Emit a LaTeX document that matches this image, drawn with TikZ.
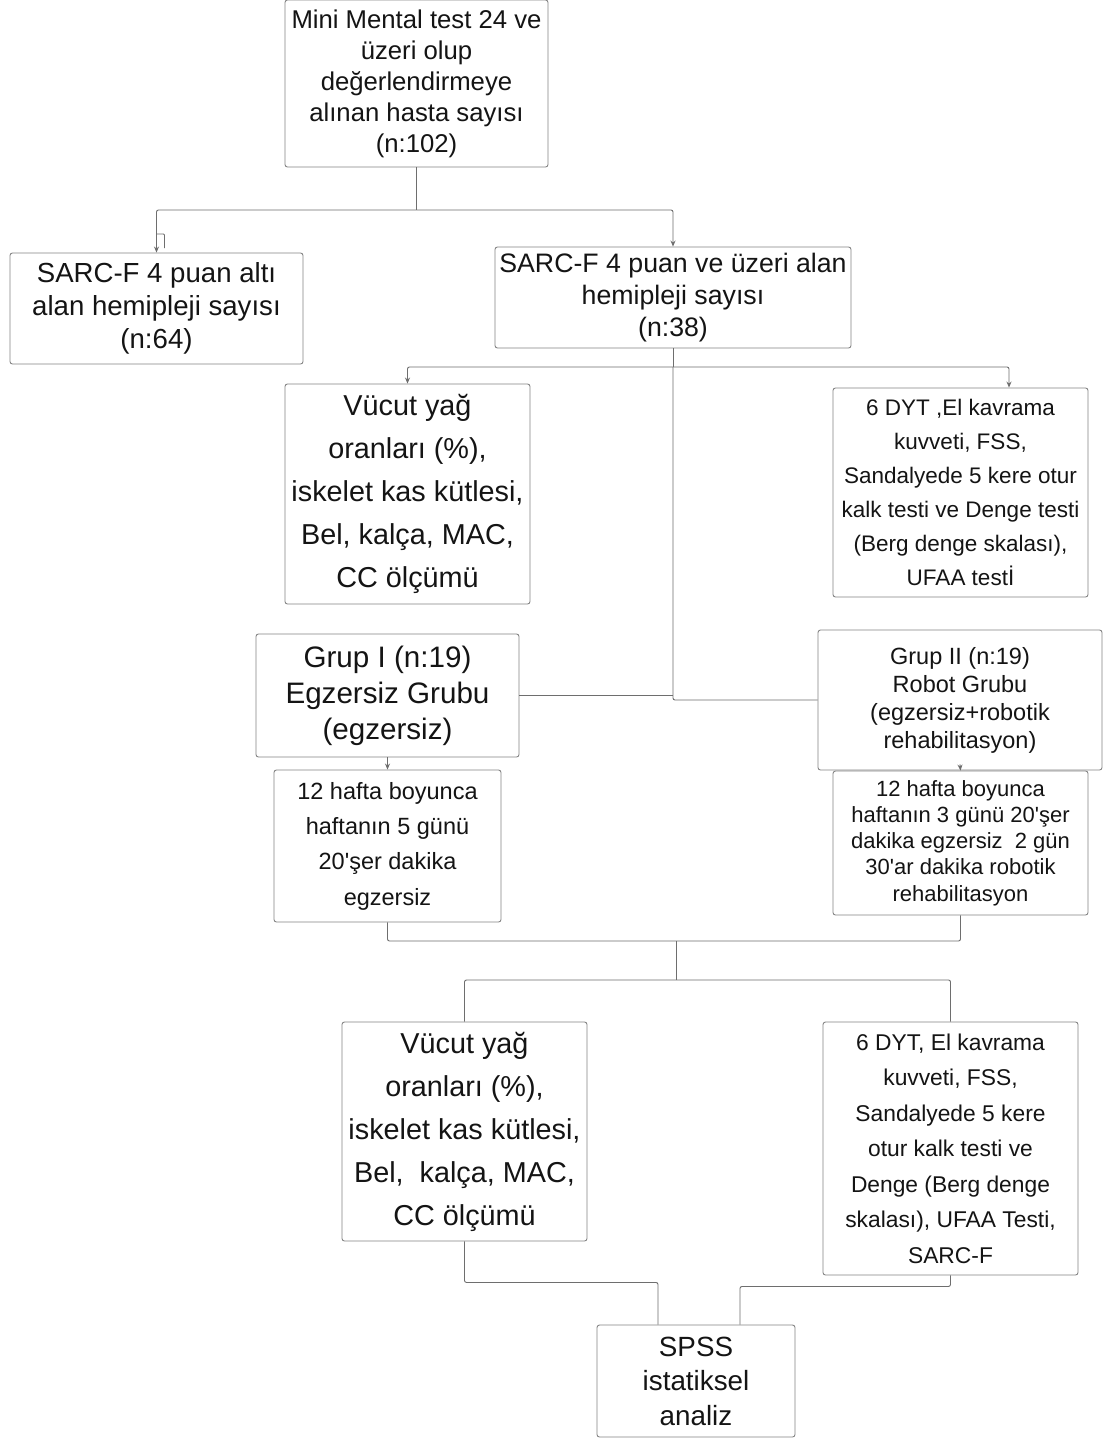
\documentclass[tikz,border=0pt]{standalone}
\usepackage{fontspec}
\setmainfont{Liberation Sans}
\usetikzlibrary{arrows.meta}
\definecolor{bordc}{HTML}{858585}
\definecolor{linec}{HTML}{6E6E6E}
\definecolor{txtc}{HTML}{141414}
\tikzset{
  box/.style={draw=bordc, line width=0.9pt, rounded corners=2.5pt, align=center,
    inner sep=0pt, text=txtc, fill=white},
  conn/.style={draw=linec, line width=0.9pt, rounded corners=2pt},
  arr/.style={conn, -{Stealth[length=6pt,width=5pt]}},
  fA/.style={font=\fontsize{25.7}{31}\selectfont},
}
\begin{document}
\begin{tikzpicture}[x=1pt,y=-1pt]
\useasboundingbox (0,0) rectangle (1105,1438);
\fill[white] (0,0) rectangle (1105,1438);

\node[box, fA, minimum width=263pt, minimum height=167pt] (top) at (416.5,83.5)
  {Mini Mental test 24 ve\\üzeri olup\\değerlendirmeye\\alınan hasta sayısı\\(n:102)};
\node[box, font=\fontsize{27.6}{33}\selectfont, minimum width=293pt, minimum height=111pt] (left) at (156.5,308.5)
  {SARC-F 4 puan altı\\alan hemipleji sayısı\\(n:64)};
\node[box, font=\fontsize{26.7}{32}\selectfont, minimum width=356pt, minimum height=101pt] (right) at (673,297.5)
  {SARC-F 4 puan ve üzeri alan\\hemipleji sayısı\\(n:38)};
\node[box, font=\fontsize{28.8}{43}\selectfont, minimum width=245pt, minimum height=220pt] (vuc1) at (407.5,494)
  {Vücut yağ\\oranları (\%),\\iskelet kas kütlesi,\\Bel, kalça, MAC,\\CC ölçümü};
\node[box, font=\fontsize{22.5}{34}\selectfont, minimum width=255pt, minimum height=209pt] (dyt1) at (960.5,492.5)
  {6 DYT ,El kavrama\\kuvveti, FSS,\\Sandalyede 5 kere otur\\kalk testi ve Denge testi\\(Berg denge skalası),\\UFAA testİ};
\node[box, font=\fontsize{29.6}{36}\selectfont, minimum width=263pt, minimum height=123pt] (grup1) at (387.5,695.5)
  {Grup I (n:19)\\Egzersiz Grubu\\(egzersiz)};
\node[box, font=\fontsize{23.5}{28}\selectfont, minimum width=284pt, minimum height=140pt] (grup2) at (960,700)
  {Grup II (n:19)\\Robot Grubu\\(egzersiz+robotik\\rehabilitasyon)};
\node[box, font=\fontsize{23.5}{35.3}\selectfont, minimum width=227pt, minimum height=152pt] (haf1) at (387.5,846)
  {12 hafta boyunca\\haftanın 5 günü\\20\textquotesingle şer dakika\\egzersiz};
\node[box, font=\fontsize{22}{26.3}\selectfont, minimum width=255pt, minimum height=144pt] (haf2) at (960.5,843)
  {12 hafta boyunca\\haftanın 3 günü 20\textquotesingle şer\\dakika egzersiz\ \ 2 gün\\30\textquotesingle ar dakika robotik\\rehabilitasyon};
\node[box, font=\fontsize{28.8}{43}\selectfont, minimum width=245pt, minimum height=219pt] (vuc2) at (464.5,1131.5)
  {Vücut yağ\\oranları (\%),\\iskelet kas kütlesi,\\Bel,\ \ kalça, MAC,\\CC ölçümü};
\node[box, font=\fontsize{22.8}{35.5}\selectfont, minimum width=255pt, minimum height=253pt] (dyt2) at (950.5,1148.5)
  {6 DYT, El kavrama\\kuvveti, FSS,\\Sandalyede 5 kere\\otur kalk testi ve\\Denge (Berg denge\\skalası), UFAA Testi,\\SARC-F};
\node[box, font=\fontsize{27.8}{34.5}\selectfont, minimum width=198pt, minimum height=112pt] (spss) at (696,1381)
  {SPSS\\istatiksel\\analiz};

% junctions
\coordinate (j1) at (416.5,210);
\coordinate (j2) at (673,367);
\coordinate (j4) at (676,941);
\coordinate (j5) at (676,980);
\coordinate (hk1) at (157,234);
\coordinate (hk2) at (164.5,234);
\coordinate (hk3) at (164.5,248);

% top connections
\draw[conn] (top.south) -- (j1);
\draw[arr] (j1) -| (left.north);
\draw[arr] (j1) -| (right.north);
\draw[conn, rounded corners=1pt] (hk1) -- (hk2) -- (hk3);

% from right box
\draw[conn] (right.south) -- (j2);
\draw[arr] (j2) -| (vuc1.north);
\draw[arr] (j2) -| ([xshift=48.5pt]dyt1.north);
\draw[conn] (j2) |- (grup2.west);
\draw[conn] (grup1.east) -- (grup1.east -| j2);

% groups to programs
\draw[arr] (grup1.south) -- (haf1.north);
\draw[arr] ([yshift=6pt]grup2.south) -- (haf2.north);

% programs merge
\draw[conn] (haf1.south) -- (haf1.south |- j4) -- (haf2.south |- j4) -- (haf2.south);
\draw[conn] (j4) -- (j5);
\draw[conn] (vuc2.north) |- (j5) -| (dyt2.north);

% to SPSS
\draw[conn] (vuc2.south) -- ++(0,41) -| ([xshift=-38pt]spss.north);
\draw[conn] (dyt2.south) -- ++(0,11) -| ([xshift=44pt]spss.north);
\end{tikzpicture}
\end{document}
